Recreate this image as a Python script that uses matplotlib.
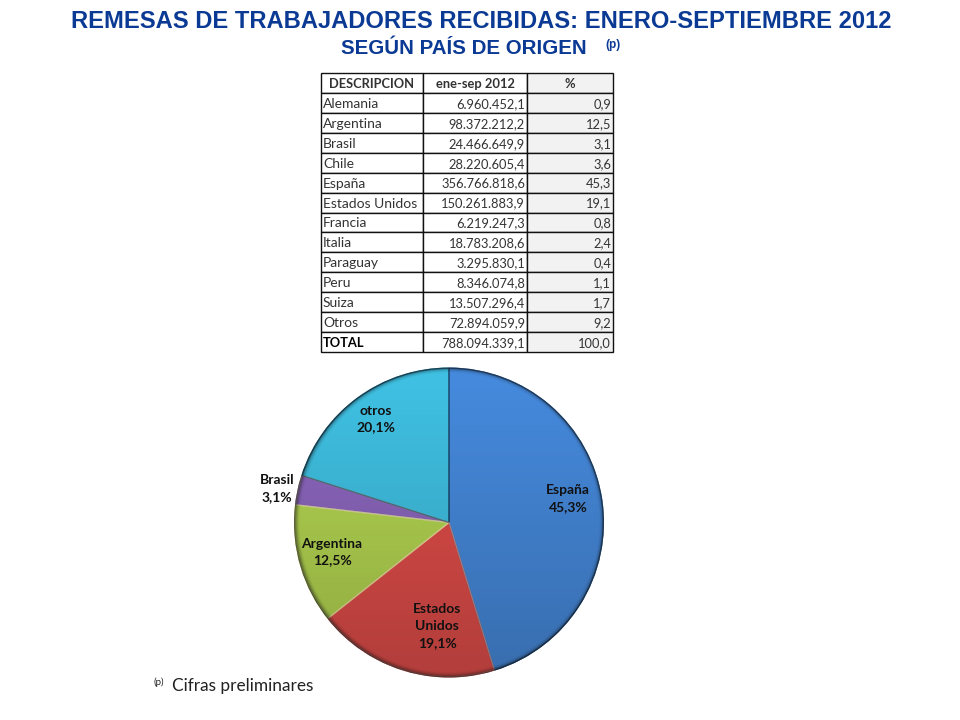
import numpy as np
import matplotlib
matplotlib.use("Agg")
import matplotlib.pyplot as plt
from matplotlib.patches import Wedge

title_main = "REMESAS DE TRABAJADORES RECIBIDAS: ENERO-SEPTIEMBRE 2012"
title_sub = "SEGÚN PAÍS DE ORIGEN"
col_labels = ["DESCRIPCION", "ene-sep 2012", "%"]
countries = ["Alemania", "Argentina", "Brasil", "Chile", "España", "Estados Unidos",
             "Francia", "Italia", "Paraguay", "Peru", "Suiza", "Otros", "TOTAL"]
amounts = ["6.960.452,1", "98.372.212,2", "24.466.649,9", "28.220.605,4", "356.766.818,6",
           "150.261.883,9", "6.219.247,3", "18.783.208,6", "3.295.830,1", "8.346.074,8",
           "13.507.296,4", "72.894.059,9", "788.094.339,1"]
percents = ["0,9", "12,5", "3,1", "3,6", "45,3", "19,1", "0,8", "2,4", "0,4", "1,1", "1,7", "9,2", "100,0"]

pie_labels = ["España\n45,3%", "Estados\nUnidos\n19,1%", "Argentina\n12,5%", "Brasil\n3,1%", "otros\n20,1%"]
pie_values = [45.3, 19.1, 12.5, 3.1, 20.1]
pie_colors = ["#4589DC", "#E04C48", "#B4D650", "#8C66BE", "#3FC0E2"]
edge_colors = ["#15385A", "#F4B0A8", "#EEF59A", "#D8D0A0", "#15385A"]
W, H = 960, 720
fig = plt.figure(figsize=(W / 100, H / 100), dpi=100, facecolor="white")

# ---- titles
bg = fig.add_axes([0, 0, 1, 1])
bg.set_xlim(0, W); bg.set_ylim(H, 0); bg.axis("off")
navy = "#0B3A94"
bg.text(481, 21.5, title_main, ha="center", va="center", fontsize=17.1, fontweight="bold",
        color=navy, family="Liberation Sans")
bg.text(464, 48, title_sub, ha="center", va="center", fontsize=14.8, fontweight="bold",
        color=navy, family="Liberation Sans")
bg.text(605, 45, "(p)", ha="left", va="center", fontsize=8.5, fontweight="bold",
        color=navy, family="Liberation Sans")
bg.text(154, 682, "(p)", ha="left", va="center", fontsize=7, color="#222222", family="Lato")
bg.text(172, 686, "Cifras preliminares", ha="left", va="center", fontsize=12.4, color="#222222", family="Lato")

# ---- table
tx0, tx1, ty0, ty1 = 321, 613, 73, 352
tax = fig.add_axes([tx0 / W, 1 - ty1 / H, (tx1 - tx0) / W, (ty1 - ty0) / H])
tax.axis("off")
rows = [list(r) for r in zip(countries, amounts, percents)]
tab = tax.table(cellText=rows, colLabels=col_labels, bbox=[0, 0, 1, 1],
                colWidths=[102 / 292, 104 / 292, 86 / 292])
tab.auto_set_font_size(False)
for (r, c), cell in tab.get_celld().items():
    cell.set_linewidth(1.0)
    cell.set_edgecolor("#111111")
    txt = cell.get_text()
    txt.set_fontsize(10 if c == 0 and 0 < r < len(countries) else 9.3)
    txt.set_family("Lato")
    txt.set_color("#333333")
    txt.set_va("center_baseline")
    cell.PAD = 0.02
    cell.set_facecolor("#F2F2F2" if c == 2 else "white")
    if r == 0:
        cell.set_text_props(ha="center", fontweight="bold")
        cell._loc = "center"
    else:
        cell._loc = "left" if c == 0 else "right"
        txt.set_ha(cell._loc)
    if r == len(countries) and c == 0:
        txt.set_fontweight("bold")
        txt.set_color("black")

# ---- pie
cx, cy, R = 449, 522.5, 155
pad = 1.04
pax = fig.add_axes([(cx - R * pad) / W, 1 - (cy + R * pad) / H, 2 * R * pad / W, 2 * R * pad / H])
wedges, _ = pax.pie(pie_values, colors=pie_colors, startangle=90, counterclock=False, radius=1,
                    wedgeprops=dict(linewidth=0))

# thin bevel on the wedge edges, under the shading
for w, ec in zip(wedges, edge_colors):
    pax.add_patch(Wedge(w.center, w.r * 0.995, w.theta1, w.theta2, fill=False, edgecolor=ec,
                        linewidth=1.0, alpha=0.6, zorder=2))

# shading: dark toward the bottom and at the rim
n = 500
gx, gy = np.meshgrid(np.linspace(-pad, pad, n), np.linspace(pad, -pad, n))
rr = np.hypot(gx, gy)
alpha = 0.22 * np.clip((0.9 - gy) / 1.9, 0, 1) + 0.55 * np.clip((rr - 0.96) / 0.04, 0, 1) ** 2
shade = np.zeros((n, n, 4))
shade[..., :3] = 0.05
shade[..., 3] = np.clip(alpha, 0, 1)
im = pax.imshow(shade, extent=[-pad, pad, -pad, pad], zorder=3, interpolation="bilinear", aspect="equal")
im.set_clip_path(plt.Circle((0, 0), 1.0, transform=pax.transData))
pax.set_xlim(-pad, pad); pax.set_ylim(-pad, pad); pax.set_aspect("equal")

# ---- pie labels, placed at their spots in pixels of the slide
label_pos = [(568, 499), (437, 626), (332, 552), (277, 489), (376, 419)]
for s, (x, y) in zip(pie_labels, label_pos):
    fig.text(x / W, 1 - y / H, s, ha="center", va="center", fontsize=10, fontweight="bold",
             family="Lato", color="#111111", linespacing=1.5, zorder=10)

fig.savefig("out.png", dpi=100, facecolor="white")
